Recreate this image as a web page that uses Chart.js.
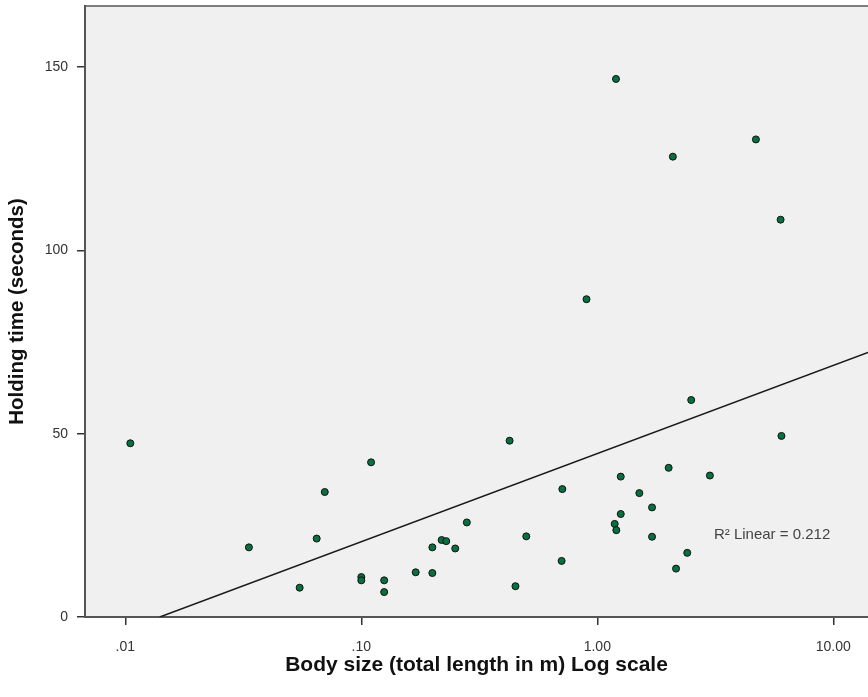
<!DOCTYPE html>
<html>
<head>
<meta charset="utf-8">
<script src="https://cdn.jsdelivr.net/npm/chart.js@4"></script>
<style>
  html, body { margin: 0; padding: 0; background: #fff; overflow: hidden; }
  #wrap { position: absolute; left: 0; top: 0; width: 868px; height: 697px; }
</style>
</head>
<body>
<div id="wrap"><canvas id="holding"></canvas></div>
<script>
// body size (m) and holding time (s)
const bodySize = [
  1.20, 2.09, 4.70, 5.98, 0.90,
  0.0105, 0.0334, 0.070, 0.0647, 0.0548,
  0.110, 0.100, 0.100, 0.125, 0.125, 0.170, 0.200, 0.200, 0.219, 0.229,
  0.250, 0.280, 0.425, 0.450, 0.500, 0.711, 0.706, 1.185, 1.204, 1.257,
  1.257, 1.507, 1.706, 1.706, 2.006, 2.156, 2.405, 2.50, 3.00, 6.03
];
const holdingTime = [
  146.8, 125.6, 130.3, 108.4, 86.7,
  47.4, 19.0, 34.1, 21.4, 8.0,
  42.2, 10.9, 10.0, 10.0, 6.8, 12.2, 12.0, 19.0, 21.0, 20.7,
  18.7, 25.8, 48.1, 8.4, 22.0, 34.9, 15.3, 25.4, 23.7, 28.1,
  38.3, 33.8, 29.9, 21.9, 40.7, 13.2, 17.5, 59.2, 38.6, 49.4
];

// fit line end points as drawn
const fitX = [0.0140, 14.03];
const fitY = [0, 72.2];

const xTicks = [0.01, 0.1, 1, 10];
const xTickLabels = ['.01', '.10', '1.00', '10.00'];
const yTicks = [0, 50, 100, 150];

const r2Text = 'R\u00B2 Linear = 0.212';
const r2At = { x: 3.12, y: 22.3 };

const points = bodySize.map((b, i) => ({ x: b, y: holdingTime[i] }));
const fit = fitX.map((b, i) => ({ x: b, y: fitY[i] }));

const plotBg = {
  id: 'plotBg',
  beforeDraw(chart) {
    const { ctx, chartArea: a } = chart;
    ctx.save();
    ctx.fillStyle = '#f0f0f0';
    ctx.fillRect(a.left, a.top, a.right - a.left, a.bottom - a.top);
    ctx.strokeStyle = '#555';
    ctx.lineWidth = 1.5;
    ctx.beginPath();
    ctx.moveTo(a.left, a.top);
    ctx.lineTo(a.right, a.top);
    ctx.stroke();
    ctx.restore();
  },
  afterDatasetsDraw(chart) {
    const { ctx, scales } = chart;
    ctx.save();
    ctx.font = '15px "Liberation Sans", Arial, sans-serif';
    ctx.fillStyle = '#444';
    ctx.textAlign = 'left';
    ctx.textBaseline = 'middle';
    ctx.fillText(r2Text, scales.x.getPixelForValue(r2At.x), scales.y.getPixelForValue(r2At.y));
    ctx.restore();
  }
};

new Chart('holding', {
  type: 'scatter',
  data: {
    datasets: [
      {
        type: 'line',
        data: fit,
        borderColor: '#1a1a1a',
        borderWidth: 1.5,
        pointRadius: 0,
        fill: false
      },
      {
        data: points,
        backgroundColor: '#08703f',
        borderColor: '#111',
        borderWidth: 1,
        pointRadius: 3.5
      }
    ]
  },
  options: {
    responsive: true,
    maintainAspectRatio: false,
    animation: false,
    layout: { autoPadding: false, padding: { top: 6, left: 0, right: 0, bottom: 0 } },
    plugins: { legend: { display: false }, tooltip: { enabled: false } },
    scales: {
      x: {
        type: 'logarithmic',
        min: 0.006748,
        max: 14.03,
        afterBuildTicks: s => { s.ticks = xTicks.map(v => ({ value: v })); },
        afterFit: s => { s.height = 80; s.paddingLeft = 0; s.paddingRight = 0; },
        ticks: {
          callback: (v, i) => xTickLabels[i],
          color: '#333',
          padding: 14,
          maxRotation: 0,
          font: { family: '"Liberation Sans", Arial, sans-serif', size: 14 }
        },
        grid: { drawOnChartArea: false, drawTicks: true, tickLength: 8, color: '#333', lineWidth: 1.5 },
        border: { display: true, color: '#555', width: 2 },
        title: {
          display: true,
          text: 'Body size (total length in m) Log scale',
          color: '#111',
          padding: { top: 0, bottom: 19 },
          font: { family: '"Liberation Sans", Arial, sans-serif', size: 21, weight: 'bold' }
        }
      },
      y: {
        min: 0,
        max: 166.7,
        afterBuildTicks: s => { s.ticks = yTicks.map(v => ({ value: v })); },
        afterFit: s => { s.width = 85; s.paddingTop = 0; s.paddingBottom = 0; },
        ticks: {
          color: '#333',
          padding: 9,
          font: { family: '"Liberation Sans", Arial, sans-serif', size: 14 }
        },
        grid: { drawOnChartArea: false, drawTicks: true, tickLength: 8, color: '#333', lineWidth: 1.5 },
        border: { display: true, color: '#555', width: 2 },
        title: {
          display: true,
          text: 'Holding time (seconds)',
          color: '#111',
          padding: { top: 5, bottom: 0 },
          font: { family: '"Liberation Sans", Arial, sans-serif', size: 20.5, weight: 'bold' }
        }
      }
    }
  },
  plugins: [plotBg]
});
</script>
</body>
</html>
